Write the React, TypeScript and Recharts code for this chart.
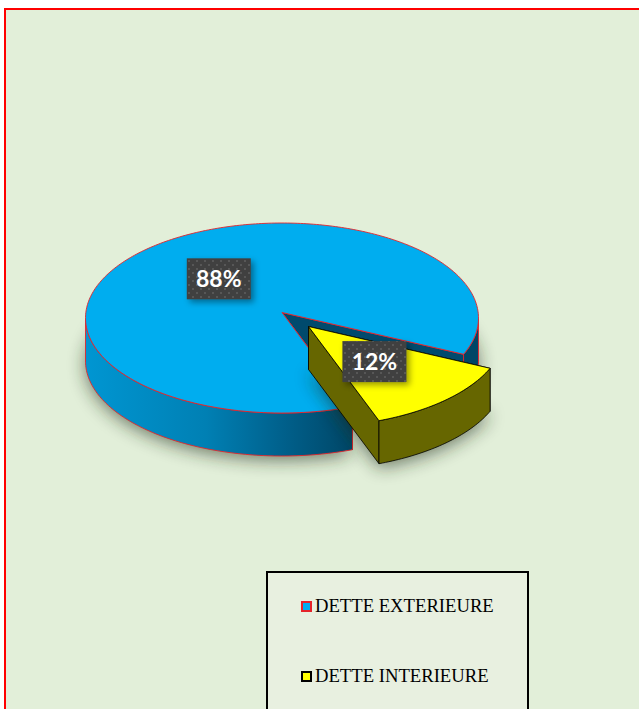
import { Legend, Pie, PieChart } from 'recharts';

const CATEGORIES = ['DETTE EXTERIEURE', 'DETTE INTERIEURE'];
const VALUES = [87.6, 12.4];
const TOP_COLORS = ['#00adef', '#ffff00'];
const EDGE_COLORS = ['#e5242a', '#000000'];
const FACE_COLORS = ['#004a6d', '#666600'];
const WALL_FILLS = ['url(#blueWall)', '#666600'];

const pieData = CATEGORIES.map((name, i) => ({ name, value: VALUES[i], fill: TOP_COLORS[i] }));

const SQUASH = 95 / 196.5;
const TILT = -0.058; // moves the pie centre a little up from the ellipse centre
const DEPTH = 43;
const EXPLODE = [
  { x: 0, y: 0 },
  { x: 26.5, y: 14 },
];

// pie angle (degrees, recharts convention) -> point on the tilted disc
function project(cx: number, cy: number, radius: number, angle: number, r = 1) {
  const a = (angle * Math.PI) / 180;
  const u = Math.cos(a) * r;
  const v = -Math.sin(a) * r;
  const k = 1 + TILT * v;
  return {
    x: cx + (radius * u * Math.sqrt(1 - TILT * TILT)) / k,
    y: cy + (radius * SQUASH * (v + TILT)) / k,
  };
}

const toPath = (pts: { x: number; y: number }[], close = true) =>
  pts.map((p, i) => `${i ? 'L' : 'M'}${p.x.toFixed(2)} ${p.y.toFixed(2)}`).join(' ') + (close ? ' Z' : '');

const drop = (pts: { x: number; y: number }[], dy: number) => pts.map((p) => ({ x: p.x, y: p.y + dy }));

function Slice3D(props: any) {
  const { cx, cy, outerRadius, startAngle, endAngle, name } = props;
  const index = CATEGORIES.indexOf(name);
  const off = EXPLODE[index];
  const ox = cx + off.x;
  const oy = cy + off.y;
  const edge = EDGE_COLORS[index];
  const width = index === 0 ? 0.9 : 0.8;

  const steps = Math.ceil(Math.abs(endAngle - startAngle));
  const arc = [];
  for (let i = 0; i <= steps; i++) {
    arc.push(project(ox, oy, outerRadius, startAngle + ((endAngle - startAngle) * i) / steps));
  }
  const apex = project(ox, oy, outerRadius, 0, 0);
  const outline = [apex, ...arc];

  // only the part of the rim on the near side of the ellipse shows a wall
  const runs: { x: number; y: number }[][] = [];
  let run: { x: number; y: number }[] = [];
  arc.forEach((p) => {
    if (p.y >= oy) {
      run.push(p);
    } else if (run.length) {
      runs.push(run);
      run = [];
    }
  });
  if (run.length) runs.push(run);

  // far cut face first, the near one paints over it
  const ends = [arc[0], arc[arc.length - 1]].sort((a, b) => a.y - b.y);
  return (
    <g>
      <path d={toPath(drop(outline, DEPTH + 4))} fill="#1c2a18" opacity={0.6} filter="url(#softShadow)" />
      {ends.map((p, i) => (
        <path
          key={i}
          d={toPath([apex, p, { x: p.x, y: p.y + DEPTH }, { x: apex.x, y: apex.y + DEPTH }])}
          fill={FACE_COLORS[index]}
          stroke={edge}
          strokeWidth={width}
        />
      ))}
      {runs.map((pts, i) => (
        <path
          key={i}
          d={toPath([...pts, ...drop(pts, DEPTH).reverse()])}
          fill={WALL_FILLS[index]}
          stroke={edge}
          strokeWidth={width}
        />
      ))}
      <path d={toPath(outline)} fill={TOP_COLORS[index]} stroke={edge} strokeWidth={width} />
    </g>
  );
}

function SliceLabel(props: any) {
  const { cx, cy, outerRadius, midAngle, percent, index } = props;
  const off = EXPLODE[index];
  const p = project(cx + off.x, cy + off.y, outerRadius, midAngle, 0.49);
  return (
    <g>
      <rect x={p.x - 32} y={p.y - 20.5} width={64} height={41} fill="#404040" filter="url(#labelShadow)" />
      <rect x={p.x - 32} y={p.y - 20.5} width={64} height={41} fill="url(#dots)" />
      <text
        x={p.x}
        y={p.y + 8.5}
        textAnchor="middle"
        fontFamily="Lato, sans-serif"
        fontWeight={700}
        fontSize={23}
        fill="#ffffff"
      >
        {`${Math.round(percent * 100)}%`}
      </text>
    </g>
  );
}

function LegendBox({ payload }: any) {
  return (
    <div
      style={{
        boxSizing: 'border-box',
        width: 263,
        height: 160,
        paddingTop: 21,
        paddingLeft: 33,
        border: '2px solid #000',
        background: '#e8f0e0',
        fontFamily: '"Liberation Serif", serif',
        fontSize: 18.67,
        color: '#000',
      }}
    >
      {(payload ?? []).map((item: any) => {
        const i = CATEGORIES.indexOf(item.value);
        return (
          <div key={item.value} style={{ display: 'flex', alignItems: 'center', height: 24, marginBottom: 46 }}>
            <span
              style={{
                boxSizing: 'border-box',
                width: 11,
                height: 11,
                marginRight: 3,
                border: `2px solid ${EDGE_COLORS[i]}`,
                background: TOP_COLORS[i],
              }}
            />
            {item.value}
          </div>
        );
      })}
    </div>
  );
}

export default function App() {
  return (
    <div style={{ position: 'absolute', left: 0, top: 0, width: 639, height: 709, overflow: 'hidden', background: '#fff' }}>
      <div
        style={{
          position: 'absolute',
          left: 4,
          top: 8,
          width: 700,
          height: 800,
          background: '#e2efd9',
          border: '2px solid #ff0000',
        }}
      />
      <div style={{ position: 'absolute', left: 0, top: 0 }}>
        <PieChart width={639} height={709} margin={{ top: 0, right: 0, bottom: 0, left: 0 }}>
          <defs>
            <linearGradient id="blueWall" gradientUnits="userSpaceOnUse" x1="85" y1="0" x2="353" y2="0">
              <stop offset="0%" stopColor="#0096d2" />
              <stop offset="45%" stopColor="#0080b4" />
              <stop offset="75%" stopColor="#005f8a" />
              <stop offset="100%" stopColor="#004666" />
            </linearGradient>
            <filter id="softShadow" x="-20%" y="-30%" width="140%" height="160%">
              <feGaussianBlur stdDeviation="9" />
            </filter>
            <filter id="labelShadow" x="-20%" y="-20%" width="150%" height="150%">
              <feDropShadow dx="3" dy="3" stdDeviation="3" floodColor="#000" floodOpacity="0.4" />
            </filter>
            <pattern id="dots" patternUnits="userSpaceOnUse" width="8" height="8">
              <rect x="0" y="0" width="2" height="2" fill="#575757" />
              <rect x="4" y="4" width="2" height="2" fill="#575757" />
            </pattern>
          </defs>
          <Pie
            data={pieData}
            dataKey="value"
            nameKey="name"
            cx={282}
            cy={318}
            outerRadius={196.5}
            startAngle={-25.5}
            endAngle={334.5}
            label={SliceLabel}
            labelLine={false}
            shape={Slice3D}
            activeShape={Slice3D}
            inactiveShape={Slice3D}
            isAnimationActive={false}
          />
          <Legend content={LegendBox} wrapperStyle={{ left: 266, top: 571, width: 263 }} />
        </PieChart>
      </div>
    </div>
  );
}
